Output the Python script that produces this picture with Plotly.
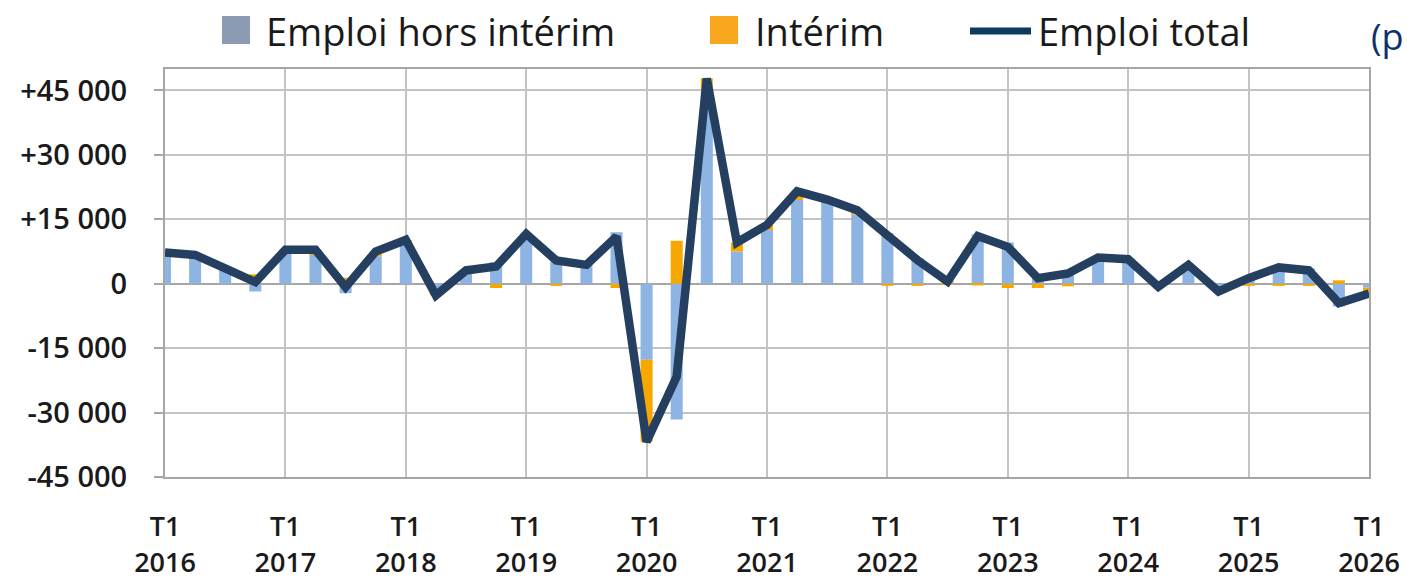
import plotly.graph_objects as go

# ---------------- data ----------------
years = [2016, 2017, 2018, 2019, 2020, 2021, 2022, 2023, 2024, 2025, 2026]
quarters = [f"T{q} {y}" for y in years[:-1] for q in (1, 2, 3, 4)] + ["T1 2026"]

emploi_hors_interim = [
    7000, 5900, 3000, -1800,
    7500, 6700, -2200, 6400,
    9800, -1800, 2300, 5000,
    10500, 5900, 4200, 12000,
    -17700, -31600, 45000, 7500,
    12500, 19500, 19200, 16100,
    11800, 6000, 800, 11500,
    9600, 2300, 3000, 5600,
    5400, -300, 4000, -1000,
    1800, 4300, 3600, -5300,
    -900,
]
interim = [
    300, 800, 600, 2200,
    400, 1200, 1400, 1100,
    400, -900, 800, -1000,
    1100, -500, 200, -1000,
    -19100, 10000, 2800, 2100,
    1200, 2000, 400, 1000,
    -500, -500, -300, -400,
    -1000, -1000, -600, 500,
    300, -400, 400, -800,
    -500, -500, -500, 800,
    -1400,
]
emploi_total = [
    7300, 6700, 3600, 400,
    7900, 7900, -800, 7500,
    10200, -2700, 3100, 4000,
    11600, 5400, 4400, 11000,
    -36800, -21600, 47800, 9600,
    13700, 21500, 19600, 17100,
    11300, 5500, 500, 11100,
    8600, 1300, 2400, 6100,
    5700, -700, 4400, -1800,
    1300, 3800, 3100, -4500,
    -2300,
]

y_tickvals = [45000, 30000, 15000, 0, -15000, -30000, -45000]
y_ticktext = ["+45 000", "+30 000", "+15 000", "0", "-15 000", "-30 000", "-45 000"]
x_tickvals = [f"T1 {y}" for y in years]
x_ticktext = [f"T1<br>{y}" for y in years]

legend_labels = ["Emploi hors intérim", "Intérim", "Emploi total"]
side_note = "(p"

# ---------------- styling ----------------
W, H = 1407, 582
L, R, T, B = 165, 38, 69, 105
PW, PH = W - L - R, H - T - B

def px(x):
    return (x - L) / PW

def py(y):
    return (H - B - y) / PH

FONT = "Open Sans"
BLUE = "#8DB4E2"
ORANGE = "#F7A800"
NAVY = "#243F60"
GRID = "#C3C3C3"
TXT = "#1A1A1A"

fig = go.Figure()
fig.add_trace(go.Bar(x=quarters, y=emploi_hors_interim, name=legend_labels[0],
                     marker=dict(color=BLUE, line=dict(width=0)), width=0.4,
                     showlegend=False))
fig.add_trace(go.Bar(x=quarters, y=interim, name=legend_labels[1],
                     marker=dict(color=ORANGE, line=dict(width=0)), width=0.4,
                     showlegend=False))
fig.add_trace(go.Scatter(x=quarters, y=emploi_total, name=legend_labels[2],
                         mode="lines", line=dict(color=NAVY, width=8.5),
                         showlegend=False))

# custom legend (large swatches as in the reference)
shapes = [
    dict(type="rect", xref="paper", yref="paper", x0=px(222), x1=px(250),
         y0=py(44), y1=py(16), fillcolor="#8D9AB3", line=dict(width=0)),
    dict(type="rect", xref="paper", yref="paper", x0=px(710), x1=px(738),
         y0=py(44), y1=py(16), fillcolor="#F8A61C", line=dict(width=0)),
    dict(type="line", xref="paper", yref="paper", x0=px(970), x1=px(1031),
         y0=py(31), y1=py(31), line=dict(color="#0D3B5E", width=7)),
]
annotations = []
for xpos, txt in zip([264, 753, 1036], legend_labels):
    annotations.append(dict(xref="paper", yref="paper", x=px(xpos), y=py(31),
                            xanchor="left", yanchor="middle", showarrow=False,
                            text=txt, font=dict(family=FONT, size=38, color=TXT)))
annotations.append(dict(xref="paper", yref="paper", x=px(1406), y=py(36),
                        xanchor="right", yanchor="middle", showarrow=False,
                        text=side_note, font=dict(family=FONT, size=36, color="#0E2F6B")))

fig.update_layout(
    width=W, height=H,
    margin=dict(l=L, r=R, t=T, b=B, pad=0),
    paper_bgcolor="white", plot_bgcolor="white",
    barmode="relative", bargap=0.6,
    showlegend=False,
    shapes=shapes, annotations=annotations,
    font=dict(family=FONT, color=TXT),
)
fig.update_xaxes(
    type="category", categoryorder="array", categoryarray=quarters,
    range=[0, 40], tickmode="array", tickvals=x_tickvals, ticktext=x_ticktext,
    showgrid=True, gridcolor=GRID, gridwidth=2,
    showline=True, linecolor="#A6A6A6", linewidth=2, mirror=True,
    ticks="", ticklabelstandoff=25, automargin=False,
    tickfont=dict(family=FONT, size=27, color=TXT, weight=600),
    fixedrange=True,
)
fig.update_yaxes(
    range=[-45000, 50000], tickmode="array", tickvals=y_tickvals, ticktext=y_ticktext,
    showgrid=True, gridcolor=GRID, gridwidth=2,
    zeroline=True, zerolinecolor="#A6A6A6", zerolinewidth=2,
    showline=True, linecolor="#A6A6A6", linewidth=2, mirror=True,
    ticks="outside", ticklen=9, tickcolor="#A6A6A6", tickwidth=2,
    ticklabelstandoff=21, automargin=False,
    tickfont=dict(family=FONT, size=29, color=TXT, weight=600),
    fixedrange=True,
)

fig.write_html(
    "out.html",
    config={"displayModeBar": False},
    post_script="document.body.style.margin='0';document.body.style.overflow='hidden';",
)
